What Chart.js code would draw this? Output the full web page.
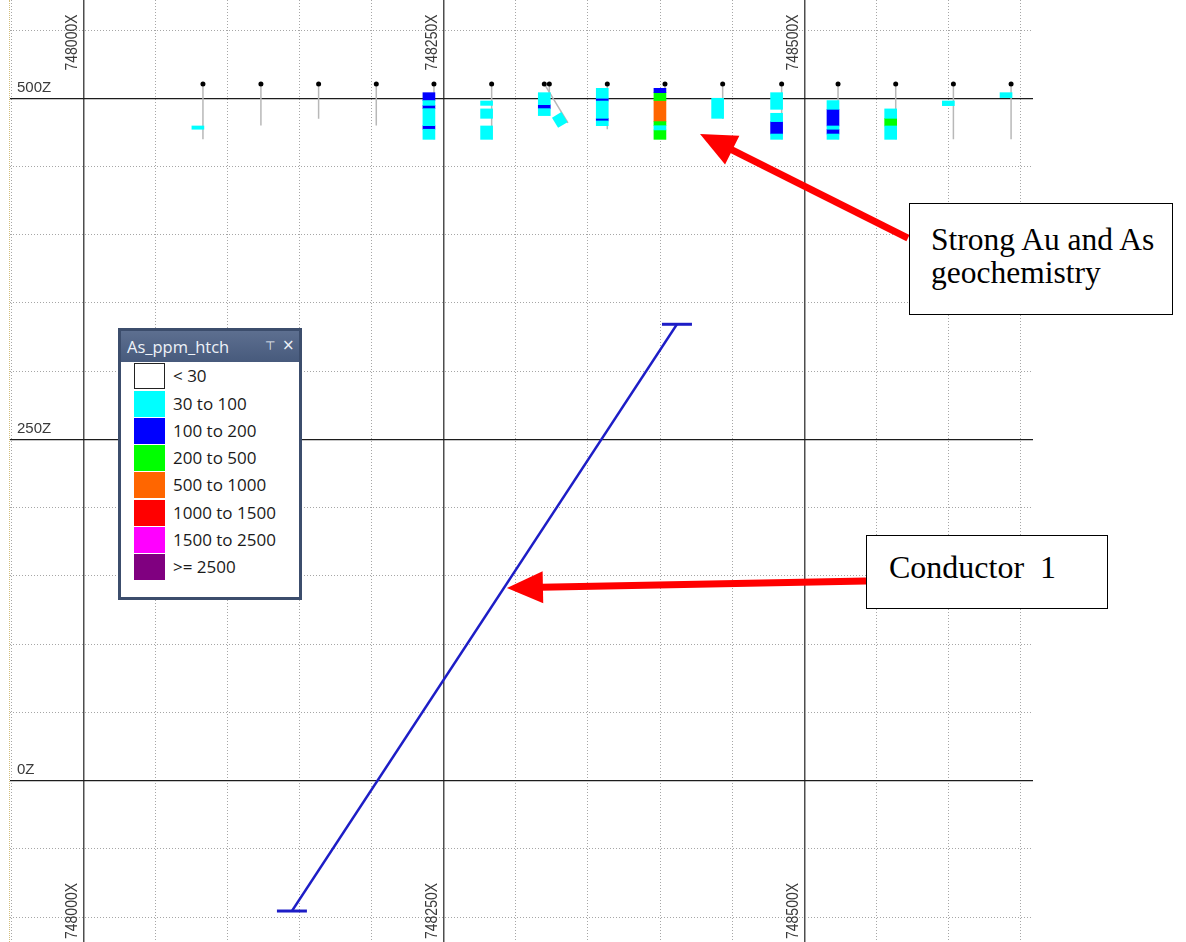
<!DOCTYPE html>
<html>
<head>
<meta charset="utf-8">
<title>Section 748000X – 748650X</title>
<script src="https://cdn.jsdelivr.net/npm/chart.js@4.4.1/dist/chart.umd.min.js"></script>
<style>
  html, body { margin: 0; padding: 0; background: #fff; }
  #wrap { position: relative; width: 1186px; height: 942px; overflow: hidden; }
  #section { position: absolute; left: 0; top: 0; }
  #edge { position: absolute; left: 9px; top: 0; width: 0; height: 942px; border-left: 1px dotted #d3be7c; }
  .note { position: absolute; box-sizing: border-box; background: #fff; border: 1px solid #000;
          font-family: "Liberation Serif", "Times New Roman", serif; line-height: 33px;
          color: #000; white-space: pre; }
  #legend { position: absolute; left: 118px; top: 328px; width: 184px; height: 272px; box-sizing: border-box;
            border: 3px solid #3c4d6c; background: #fff; }
  .lg-head { position: relative; height: 31px; background: linear-gradient(#5d6f90, #475a7c);
             color: #eef2f8; font-family: "Open Sans", sans-serif; font-size: 16.5px; line-height: 31px; padding-left: 6px; }
  .lg-pin { position: absolute; left: 144px; top: 0; font-family: "DejaVu Sans", sans-serif; font-size: 12px; }
  .lg-x { position: absolute; left: 161px; top: -1px; font-family: "DejaVu Sans", sans-serif; font-size: 15px; }
  .lg-body { position: relative; }
  .lg-row { position: absolute; left: 0; height: 26px; width: 176px; }
  .lg-sw { position: absolute; left: 13px; top: 0; width: 31px; height: 26px; box-sizing: border-box; }
  .lg-tx { position: absolute; left: 52px; top: 0; line-height: 26px; font-family: "Open Sans", sans-serif;
           font-size: 17px; color: #1a1a1a; white-space: nowrap; }
</style>
</head>
<body>
<div id="wrap">
  <canvas id="section" width="1186" height="942"></canvas>
  <div id="edge"></div>
  <div id="legend">
    <div class="lg-head"><span>As_ppm_htch</span><span class="lg-pin">⊤</span><span class="lg-x">×</span></div>
    <div class="lg-body" id="lgBody"></div>
  </div>
  <div class="note" style="left:909px; top:203px; width:264px; height:112px; padding:19px 0 0 21px; font-size:31.5px;">Strong Au and As
geochemistry</div>
  <div class="note" style="left:866px; top:535px; width:242px; height:74px; padding:15px 0 0 22px; font-size:32px;">Conductor  1</div>
</div>

<script>
// ---- View window of the section (easting X, elevation Z) ----
const xMin = 747949.2, xMax = 748658.6;
const zMin = -118.2, zMax = 572.0;
const gridStep = 50;
const labelledX = [748000, 748250, 748500];
const labelledZ = [500, 250, 0];

// ---- Arsenic legend classes ----
const asClasses = ['< 30', '30 to 100', '100 to 200', '200 to 500', '500 to 1000', '1000 to 1500', '1500 to 2500', '>= 2500'];
const asColors  = ['#ffffff', '#00ffff', '#0000ff', '#00ff00', '#ff6600', '#ff0000', '#ff00ff', '#800080'];

// ---- Drill holes: collar and end of hole ----
const collarX  = [748083.0, 748123.2, 748163.2, 748203.2, 748243.2, 748283.2, 748319.7, 748323.2,
                  748363.4, 748403.4, 748443.4, 748484.3, 748523.4, 748563.4, 748603.4, 748643.4];
const collarZ  = [510.5, 510.5, 510.5, 510.5, 510.5, 510.5, 510.5, 510.5,
                  510.5, 510.5, 510.5, 510.5, 510.5, 510.5, 510.5, 510.5];
const holeEndX = [748083.0, 748123.2, 748163.2, 748203.2, 748243.2, 748283.2, 748336.1, 748323.2,
                  748363.4, 748403.4, 748443.4, 748484.3, 748523.4, 748563.4, 748603.4, 748643.4];
const holeEndZ = [470.0, 480.0, 485.0, 480.0, 470.0, 470.0, 481.9, 487.3,
                  477.3, 470.0, 485.0, 470.0, 470.0, 470.0, 470.0, 470.0];

// ---- As assay intervals: [hole, top Z, bottom Z, class] ----
const assays = [
  [0, 479.7, 477.3, 1],
  [4, 504.1, 498.3, 2], [4, 498.3, 494.8, 1], [4, 494.8, 492.4, 2], [4, 492.4, 479.9, 1], [4, 479.9, 477.3, 2], [4, 477.3, 469.9, 1],
  [5, 498.0, 494.8, 1], [5, 492.2, 485.3, 1], [5, 479.7, 469.9, 1],
  [6, 489.6, 482.2, 1],
  [7, 504.1, 495.3, 1], [7, 495.3, 492.4, 2], [7, 492.4, 487.3, 1],
  [8, 507.3, 500.0, 1], [8, 500.0, 498.0, 2], [8, 498.0, 485.3, 1], [8, 485.3, 483.4, 2], [8, 483.4, 479.9, 1],
  [9, 507.3, 504.1, 2], [9, 504.1, 498.3, 3], [9, 498.3, 482.9, 4], [9, 482.9, 479.9, 3], [9, 479.9, 476.8, 1], [9, 476.8, 469.9, 3],
  [10, 500.0, 485.3, 1],
  [11, 504.1, 491.9, 1], [11, 489.0, 482.9, 1], [11, 482.9, 473.8, 2], [11, 473.8, 469.9, 1],
  [12, 498.3, 491.9, 1], [12, 491.9, 479.7, 2], [12, 479.7, 477.3, 1], [12, 477.3, 473.8, 2], [12, 473.8, 469.9, 1],
  [13, 492.2, 485.3, 1], [13, 485.3, 479.7, 3], [13, 479.7, 469.9, 1],
  [14, 498.0, 494.6, 1],
  [15, 504.1, 500.5, 1]
];

// ---- Conductor 1 plate trace (bottom, top) ----
const conductorX = [748144.7, 748411.7];
const conductorZ = [-95.5, 334.4];

// ---- Call-out arrows: [tail X, tail Z, tip X, tip Z] ----
const callouts = [
  [748571.9, 397.6, 748427.7, 473.8],
  [748542.8, 146.3, 748293.8, 141.2]
];

// ---- Drawing helpers ----
const barShift = -3.5;          // strips sit just left of the hole trace
const slantShift = [-3.4, -1.8]; // perpendicular shift for strips on inclined holes
const capHalf = 10.4;           // half width of the plate end ticks

function gridValues(min, max) {
  const out = [];
  for (let v = Math.ceil(min / gridStep) * gridStep; v <= max; v += gridStep) out.push({ value: v });
  return out;
}
const isMajor = ctx => ctx.tick && Math.abs(ctx.tick.value % 250) < 1e-6;

// Legend rows
const lgBody = document.getElementById('lgBody');
asClasses.forEach((name, i) => {
  const row = document.createElement('div');
  row.className = 'lg-row';
  row.style.top = (1.3 + i * 27.25) + 'px';
  const sw = document.createElement('div');
  sw.className = 'lg-sw';
  sw.style.background = asColors[i];
  if (i === 0) sw.style.border = '1px solid #222';
  const tx = document.createElement('div');
  tx.className = 'lg-tx';
  tx.textContent = name;
  row.appendChild(sw); row.appendChild(tx);
  lgBody.appendChild(row);
});

// Datasets
const datasets = [];

// hole traces
collarX.forEach((cx, h) => {
  datasets.push({
    type: 'line', showLine: true, order: 4,
    data: [{ x: cx, y: collarZ[h] }, { x: holeEndX[h], y: holeEndZ[h] }],
    borderColor: '#b8b8b8', borderWidth: 1.5, pointRadius: 0, fill: false
  });
});

// assay strips on vertical holes, one dataset per class
const isVertical = h => holeEndX[h] === collarX[h];
[...new Set(assays.map(a => a[3]))].forEach(cls => {
  const rows = assays.filter(a => a[3] === cls && isVertical(a[0]));
  if (!rows.length) return;
  datasets.push({
    type: 'bar', order: 3, grouped: false, barThickness: 12, borderWidth: 0,
    backgroundColor: asColors[cls],
    data: rows.map(a => ({ x: collarX[a[0]] + barShift, y: [a[2], a[1]] }))
  });
});

// assay strips on inclined holes
assays.filter(a => !isVertical(a[0])).forEach(a => {
  const h = a[0];
  const along = z => collarX[h] + (z - collarZ[h]) / (holeEndZ[h] - collarZ[h]) * (holeEndX[h] - collarX[h]);
  datasets.push({
    type: 'line', showLine: true, order: 3,
    data: [a[1], a[2]].map(z => ({ x: along(z) + slantShift[0], y: z + slantShift[1] })),
    borderColor: asColors[a[3]], borderWidth: 11, borderCapStyle: 'butt', pointRadius: 0, fill: false
  });
});

// collars
datasets.push({
  type: 'scatter', order: 1,
  data: collarX.map((cx, h) => ({ x: cx, y: collarZ[h] })),
  backgroundColor: '#000', borderColor: '#000', pointRadius: 2.5, borderWidth: 0
});

// conductor plate
datasets.push({
  type: 'line', showLine: true, order: 0,
  data: conductorX.map((x, i) => ({ x, y: conductorZ[i] })),
  borderColor: '#1d1dc6', borderWidth: 2.4, pointRadius: 0, fill: false
});
conductorX.forEach((x, i) => {
  datasets.push({
    type: 'line', showLine: true, order: 0,
    data: [{ x: x - capHalf, y: conductorZ[i] }, { x: x + capHalf, y: conductorZ[i] }],
    borderColor: '#1d1dc6', borderWidth: 3, pointRadius: 0, fill: false
  });
});

// Section line labels and call-out arrows
const sectionDecor = {
  id: 'sectionDecor',
  afterDatasetsDraw(chart) {
    const { ctx, scales: { x, y }, chartArea } = chart;
    ctx.save();
    // call-out arrows
    ctx.fillStyle = '#ff0000';
    ctx.strokeStyle = '#ff0000';
    callouts.forEach(([tx, tz, hx, hz]) => {
      const x0 = x.getPixelForValue(tx), y0 = y.getPixelForValue(tz);
      const x1 = x.getPixelForValue(hx), y1 = y.getPixelForValue(hz);
      const len = Math.hypot(x1 - x0, y1 - y0);
      const ux = (x1 - x0) / len, uy = (y1 - y0) / len;
      const headLen = 36, headHalf = 16;
      const bx = x1 - ux * headLen, by = y1 - uy * headLen;
      ctx.lineWidth = 7;
      ctx.lineCap = 'butt';
      ctx.beginPath();
      ctx.moveTo(x0, y0);
      ctx.lineTo(bx + ux * 2, by + uy * 2);
      ctx.stroke();
      ctx.beginPath();
      ctx.moveTo(x1, y1);
      ctx.lineTo(bx - uy * headHalf, by + ux * headHalf);
      ctx.lineTo(bx + uy * headHalf, by - ux * headHalf);
      ctx.closePath();
      ctx.fill();
    });
    // elevation labels
    ctx.fillStyle = '#3a3a3a';
    ctx.font = '15px "Liberation Sans", Arial, sans-serif';
    ctx.textBaseline = 'alphabetic';
    ctx.textAlign = 'left';
    labelledZ.forEach(z => {
      ctx.fillText(z + 'Z', chartArea.left + 7, y.getPixelForValue(z) - 6.5);
    });
    // easting labels, top and bottom
    ctx.font = '14px "Liberation Sans", Arial, sans-serif';
    labelledX.forEach(e => {
      const px = x.getPixelForValue(e) - 6.5;
      [chartArea.top + 70.5, chartArea.bottom - 3].forEach(py => {
        ctx.save();
        ctx.translate(px, py);
        ctx.rotate(-Math.PI / 2);
        ctx.scale(1, 1.2);
        ctx.fillText(e + 'X', 0, 0);
        ctx.restore();
      });
    });
    ctx.restore();
  }
};

new Chart(document.getElementById('section'), {
  type: 'scatter',
  data: { datasets },
  options: {
    responsive: false,
    animation: false,
    devicePixelRatio: 1,
    events: [],
    layout: { padding: { left: 10, right: 153, top: 0, bottom: 0 }, autoPadding: false },
    plugins: { legend: { display: false }, tooltip: { enabled: false } },
    scales: {
      x: {
        type: 'linear', min: xMin, max: xMax, offset: false,
        ticks: { display: false },
        grid: {
          offset: false, drawTicks: false,
          color: c => isMajor(c) ? '#4e4e4e' : '#a6a6a6',
          lineWidth: c => isMajor(c) ? 1.5 : 1
        },
        border: { display: false, dash: c => (c.tick && !isMajor(c)) ? [1, 2] : [] },
        afterBuildTicks: axis => { axis.ticks = gridValues(xMin, xMax); }
      },
      y: {
        type: 'linear', min: zMin, max: zMax, offset: false,
        ticks: { display: false },
        grid: {
          drawTicks: false,
          color: c => isMajor(c) ? '#1c1c1c' : '#a6a6a6',
          lineWidth: c => isMajor(c) ? 1.2 : 1
        },
        border: { display: false, dash: c => (c.tick && !isMajor(c)) ? [1, 2] : [] },
        afterBuildTicks: axis => { axis.ticks = gridValues(zMin, zMax); }
      }
    }
  },
  plugins: [sectionDecor]
});
</script>
</body>
</html>
